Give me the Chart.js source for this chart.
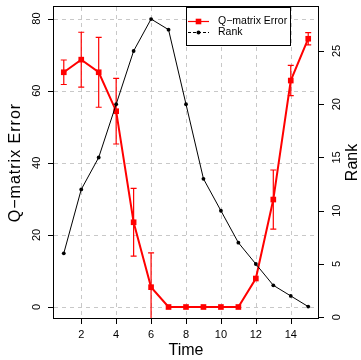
<!DOCTYPE html>
<html>
<head>
<meta charset="utf-8">
<script src="https://cdn.jsdelivr.net/npm/chart.js@4/dist/chart.umd.min.js"></script>
<style>
html,body{margin:0;padding:0;background:#fff;}
#wrap{width:361px;height:360px;}
</style>
</head>
<body>
<div id="wrap"><canvas id="c" width="361" height="360"></canvas></div>
<script>
// ---- data ----
const time = [1,2,3,4,5,6,7,8,9,10,11,12,13,14,15];
const qError = [65.1,68.6,65.1,54.3,23.5,5.5,0,0,0,0,0,7.9,29.8,62.8,74.4];
const qErrorSd = [3.4,7.6,9.7,9.1,9.4,9.5,0,0,0,0,0,0,8.2,4.2,1.7];
const rank = [6,12,15,20,25,28,27,20,13,10,7,5,3,2,1];
const xTicks = [2,4,6,8,10,12,14];
const leftTicks = [0,20,40,60,80];
const rightTicks = [0,5,10,15,20,25];
const seriesNames = ['Q\u2212matrix Error','Rank'];
const axisTitles = {x:'Time', y:'Q\u2212matrix Error', y2:'Rank'};

const FONT = '"Liberation Sans", Arial, Helvetica, sans-serif';

const rPlugin = {
  id: 'rstyle',
  beforeDatasetsDraw(chart){
    const ctx = chart.ctx, a = chart.chartArea;
    const sx = chart.scales.x, sy = chart.scales.y;
    ctx.save();
    ctx.strokeStyle = '#c8c8c8';
    ctx.lineWidth = 1;
    ctx.setLineDash([4,4]);
    xTicks.forEach(v=>{
      const px = Math.round(sx.getPixelForValue(v))+0.5;
      ctx.beginPath(); ctx.moveTo(px,a.top); ctx.lineTo(px,a.bottom); ctx.stroke();
    });
    leftTicks.forEach(v=>{
      const py = Math.round(sy.getPixelForValue(v))+0.5;
      ctx.beginPath(); ctx.moveTo(a.left,py); ctx.lineTo(a.right,py); ctx.stroke();
    });
    ctx.restore();
  },
  afterDatasetDraw(chart, args){
    if(args.index !== 0) return;
    const ctx = chart.ctx, a = chart.chartArea;
    const sx = chart.scales.x, sy = chart.scales.y;
    ctx.save();
    ctx.beginPath(); ctx.rect(a.left,a.top,a.right-a.left,a.bottom-a.top); ctx.clip();
    ctx.strokeStyle = '#ff0000';
    ctx.lineWidth = 1.2;
    time.forEach((t,i)=>{
      const sd = qErrorSd[i];
      if(!sd) return;
      const px = sx.getPixelForValue(t);
      const top = sy.getPixelForValue(qError[i]+sd);
      const bot = sy.getPixelForValue(qError[i]-sd);
      ctx.beginPath();
      ctx.moveTo(px,top); ctx.lineTo(px,bot);
      ctx.moveTo(px-3,top); ctx.lineTo(px+3,top);
      ctx.moveTo(px-3,bot); ctx.lineTo(px+3,bot);
      ctx.stroke();
    });
    ctx.restore();
  },
  afterDraw(chart){
    const ctx = chart.ctx, a = chart.chartArea;
    const sx = chart.scales.x, sy = chart.scales.y, sy2 = chart.scales.y2;
    ctx.save();
    // box
    ctx.strokeStyle = '#000';
    ctx.lineWidth = 1;
    ctx.strokeRect(Math.round(a.left)-0.5, Math.round(a.top)-0.5, Math.round(a.right-a.left)+1, Math.round(a.bottom-a.top)+1);
    // ticks
    ctx.beginPath();
    xTicks.forEach(v=>{
      const px = Math.round(sx.getPixelForValue(v))+0.5;
      ctx.moveTo(px,a.bottom); ctx.lineTo(px,a.bottom+6);
    });
    leftTicks.forEach(v=>{
      const py = Math.round(sy.getPixelForValue(v))+0.5;
      ctx.moveTo(a.left,py); ctx.lineTo(a.left-6,py);
    });
    rightTicks.forEach(v=>{
      const py = Math.round(sy2.getPixelForValue(v))+0.5;
      ctx.moveTo(a.right,py); ctx.lineTo(a.right+6,py);
    });
    ctx.stroke();
    // tick labels
    ctx.fillStyle = '#000';
    ctx.font = '11px ' + FONT;
    ctx.textAlign = 'center';
    ctx.textBaseline = 'middle';
    xTicks.forEach(v=>{
      ctx.fillText(String(v), sx.getPixelForValue(v), a.bottom+17);
    });
    leftTicks.forEach(v=>{
      ctx.save();
      ctx.translate(a.left-17, sy.getPixelForValue(v));
      ctx.rotate(-Math.PI/2);
      ctx.fillText(String(v),0,0);
      ctx.restore();
    });
    rightTicks.forEach(v=>{
      ctx.save();
      ctx.translate(a.right+19, sy2.getPixelForValue(v));
      ctx.rotate(-Math.PI/2);
      ctx.fillText(String(v),0,0);
      ctx.restore();
    });
    // axis titles
    ctx.font = '16px ' + FONT;
    const cy = (a.top+a.bottom)/2;
    ctx.fillText(axisTitles.x, (a.left+a.right)/2, 351);
    ctx.save();
    ctx.translate(16, cy);
    ctx.rotate(-Math.PI/2);
    try{ ctx.letterSpacing = '1px'; }catch(e){}
    ctx.fillText(axisTitles.y,0,0);
    ctx.restore();
    ctx.save();
    ctx.translate(353, cy);
    ctx.rotate(-Math.PI/2);
    ctx.fillText(axisTitles.y2,0,0);
    ctx.restore();
    // legend
    const lx = 186.5, ly = 7.5, lw = 104, lh = 38;
    ctx.fillStyle = '#fff';
    ctx.fillRect(lx,ly,lw,lh);
    ctx.strokeStyle = '#000';
    ctx.lineWidth = 1;
    ctx.strokeRect(lx,ly,lw,lh);
    const rows = [21.5, 32.5];
    // row 1
    ctx.strokeStyle = '#ff0000';
    ctx.lineWidth = 1.2;
    ctx.beginPath(); ctx.moveTo(188,rows[0]); ctx.lineTo(209,rows[0]); ctx.stroke();
    ctx.fillStyle = '#ff0000';
    ctx.fillRect(198.5-2.8, rows[0]-2.8, 5.6, 5.6);
    // row 2
    ctx.strokeStyle = '#000';
    ctx.lineWidth = 1;
    ctx.setLineDash([3,2]);
    ctx.beginPath(); ctx.moveTo(188,rows[1]); ctx.lineTo(209,rows[1]); ctx.stroke();
    ctx.setLineDash([]);
    ctx.fillStyle = '#000';
    ctx.beginPath(); ctx.arc(198.5, rows[1], 2, 0, Math.PI*2); ctx.fill();
    ctx.font = '10.5px ' + FONT;
    ctx.textAlign = 'left';
    ctx.fillText(seriesNames[0], 218, rows[0]);
    ctx.fillText(seriesNames[1], 218, rows[1]);
    ctx.restore();
  }
};

new Chart(document.getElementById('c'), {
  type: 'line',
  data: {
    datasets: [
      {
        label: seriesNames[0],
        data: time.map((t,i)=>({x:t, y:qError[i]})),
        yAxisID: 'y',
        borderColor: '#ff0000',
        backgroundColor: '#ff0000',
        borderWidth: 2,
        pointStyle: 'rect',
        pointRadius: 4,
        pointBorderWidth: 0,
        tension: 0,
        order: 1
      },
      {
        label: seriesNames[1],
        data: time.map((t,i)=>({x:t, y:rank[i]})),
        yAxisID: 'y2',
        borderColor: '#000',
        backgroundColor: '#000',
        borderWidth: 1,
        pointStyle: 'circle',
        pointRadius: 1.9,
        pointBorderWidth: 0,
        tension: 0,
        order: 0
      }
    ]
  },
  options: {
    responsive: false,
    devicePixelRatio: 1,
    animation: false,
    layout: { padding: { left: 54, right: 43, top: 7, bottom: 42 } },
    plugins: { legend: { display: false }, tooltip: { enabled: false } },
    scales: {
      x: { type: 'linear', min: 0.44, max: 15.56, display: false },
      y: { type: 'linear', min: -3.05, max: 83.2, display: false },
      y2: { type: 'linear', min: -0.07, max: 29.13, display: false, position: 'right' }
    }
  },
  plugins: [rPlugin]
});
</script>
</body>
</html>
